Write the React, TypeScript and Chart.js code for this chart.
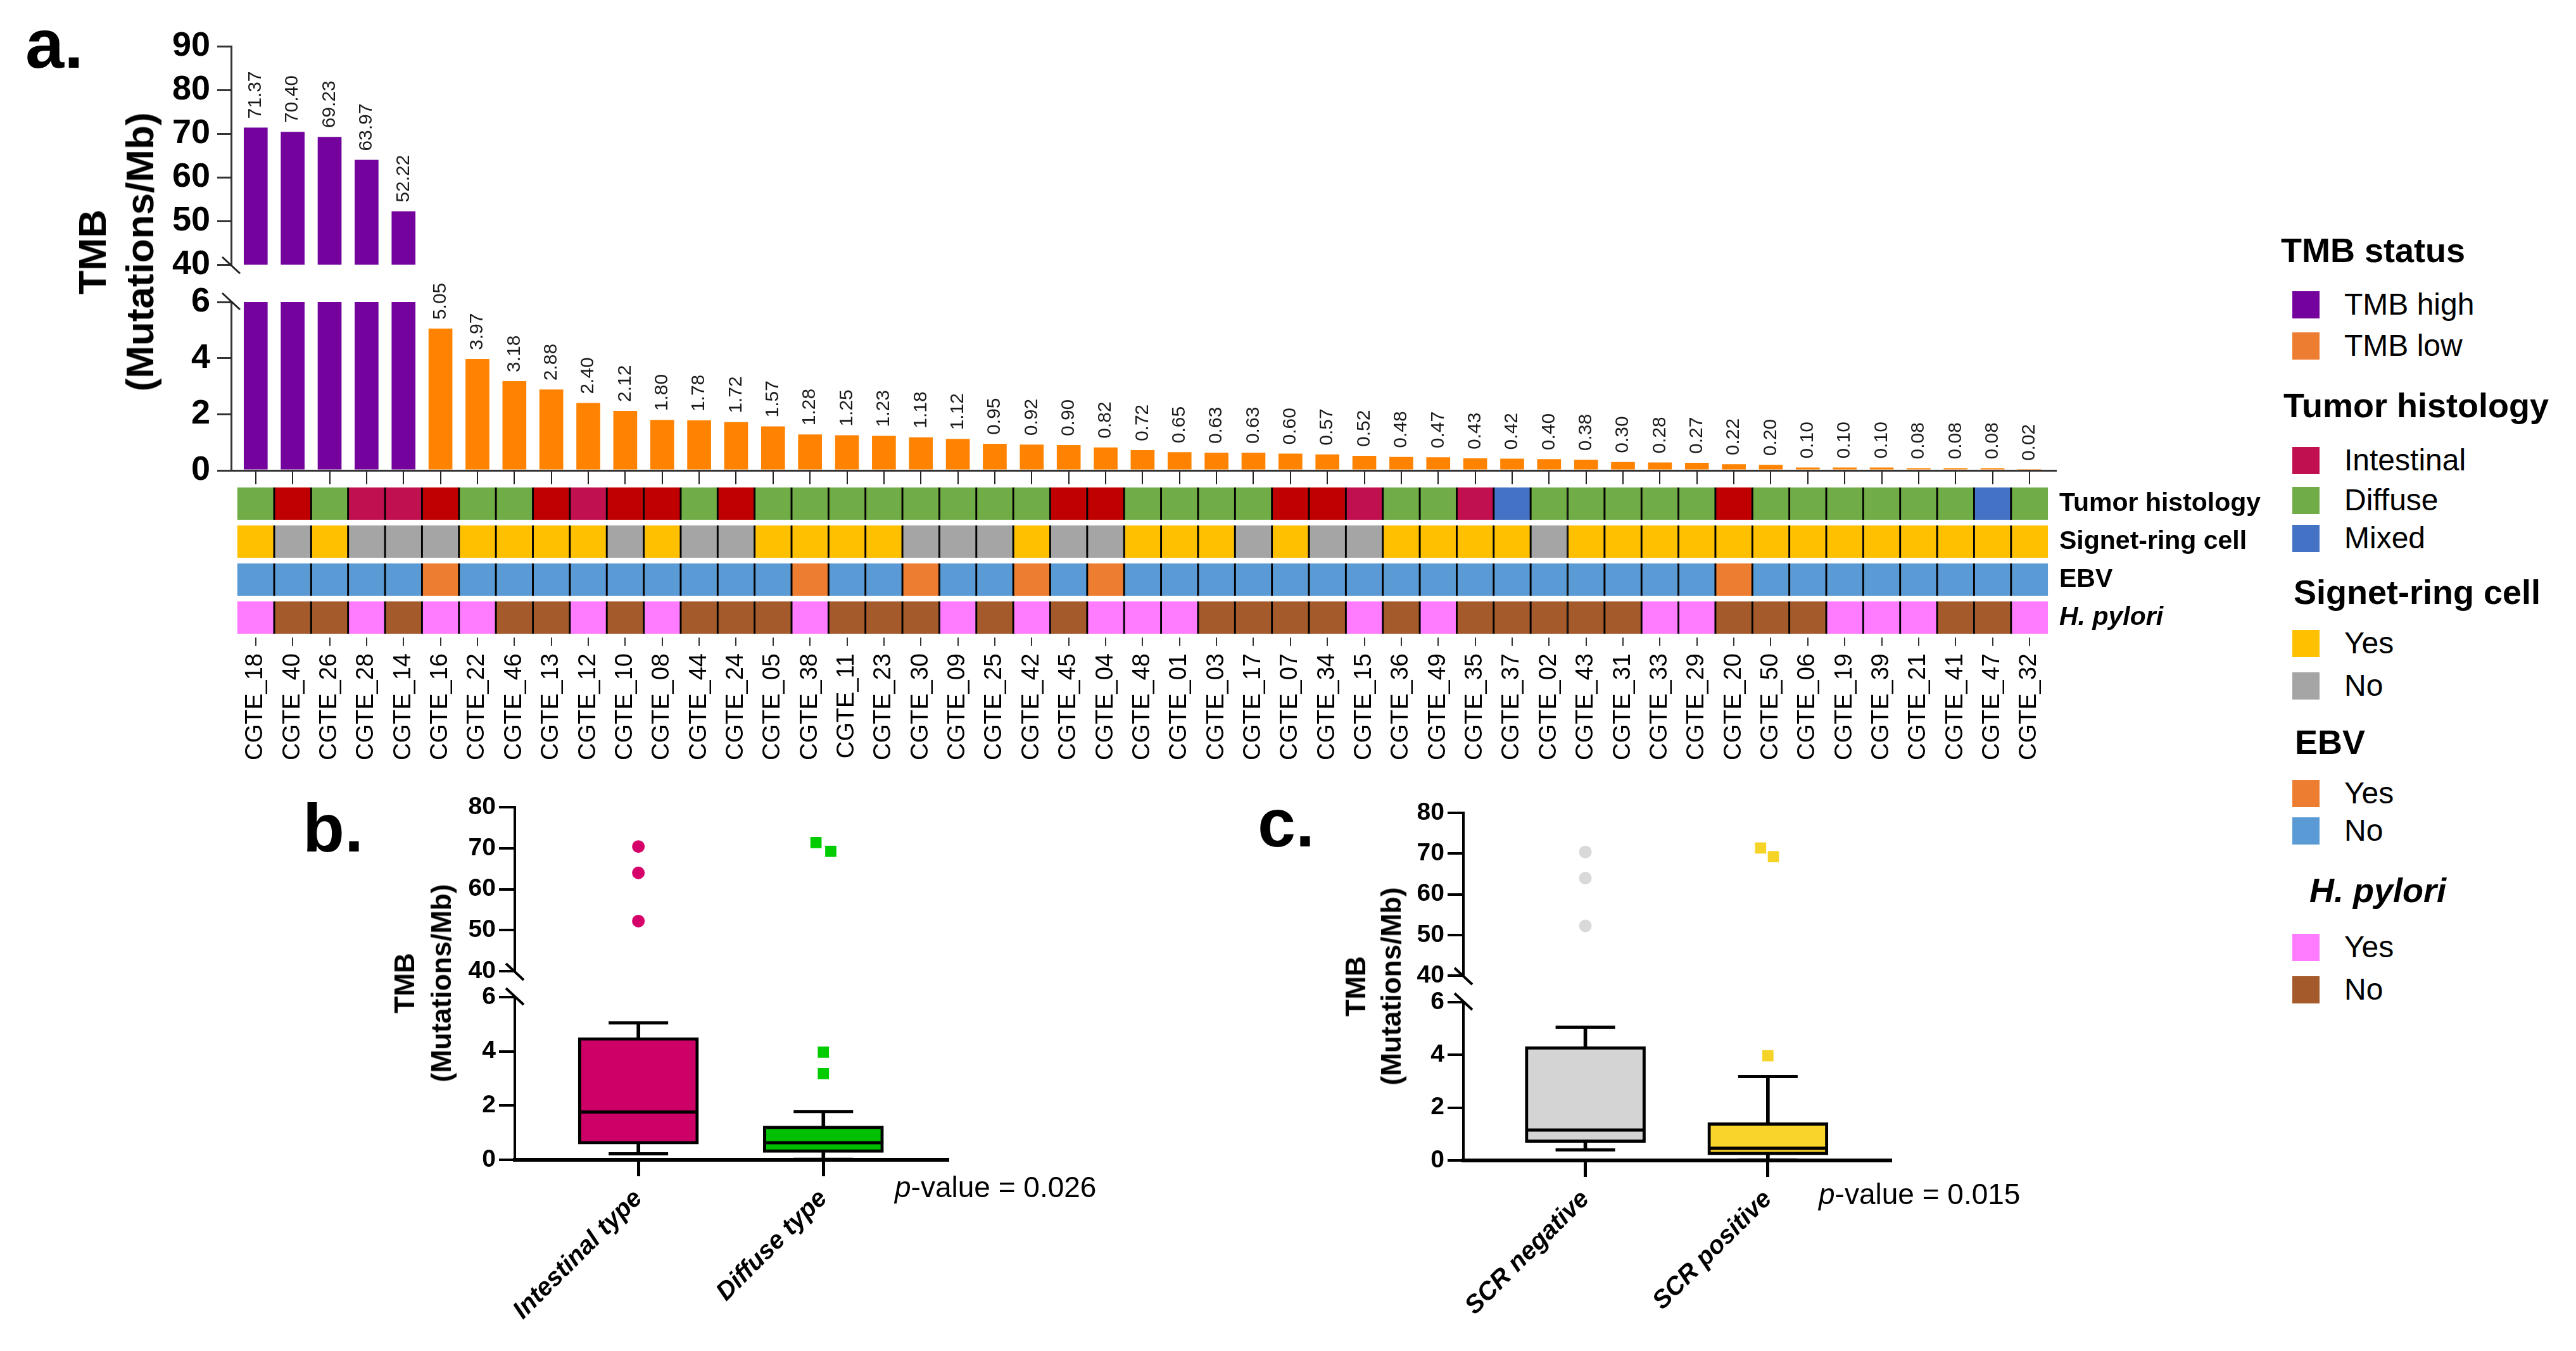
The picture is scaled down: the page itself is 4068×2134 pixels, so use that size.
import React, { useEffect, useRef } from "react";
import { Chart, registerables } from "chart.js";
Chart.register(...registerables);

const FONT = "'Liberation Sans', Arial, Helvetica, sans-serif";

// ---------------- data: panel a ----------------
const sampleIds = [
  "CGTE_18", "CGTE_40", "CGTE_26", "CGTE_28", "CGTE_14", "CGTE_16", "CGTE_22", "CGTE_46", "CGTE_13", "CGTE_12",
  "CGTE_10", "CGTE_08", "CGTE_44", "CGTE_24", "CGTE_05", "CGTE_38", "CGTE_11", "CGTE_23", "CGTE_30", "CGTE_09",
  "CGTE_25", "CGTE_42", "CGTE_45", "CGTE_04", "CGTE_48", "CGTE_01", "CGTE_03", "CGTE_17", "CGTE_07", "CGTE_34",
  "CGTE_15", "CGTE_36", "CGTE_49", "CGTE_35", "CGTE_37", "CGTE_02", "CGTE_43", "CGTE_31", "CGTE_33", "CGTE_29",
  "CGTE_20", "CGTE_50", "CGTE_06", "CGTE_19", "CGTE_39", "CGTE_21", "CGTE_41", "CGTE_47", "CGTE_32",
];
const tmbValues = [
  71.37, 70.40, 69.23, 63.97, 52.22, 5.05, 3.97, 3.18, 2.88, 2.40,
  2.12, 1.80, 1.78, 1.72, 1.57, 1.28, 1.25, 1.23, 1.18, 1.12,
  0.95, 0.92, 0.90, 0.82, 0.72, 0.65, 0.63, 0.63, 0.60, 0.57,
  0.52, 0.48, 0.47, 0.43, 0.42, 0.40, 0.38, 0.30, 0.28, 0.27,
  0.22, 0.20, 0.10, 0.10, 0.10, 0.08, 0.08, 0.08, 0.02,
];
const tmbStatus = tmbValues.map((v) => (v >= 10 ? "high" : "low"));
// D = diffuse, I = intestinal, Ir = intestinal (red shade), M = mixed
const histology = [
  "D", "Ir", "D", "I", "I", "Ir", "D", "D", "Ir", "I",
  "Ir", "Ir", "D", "Ir", "D", "D", "D", "D", "D", "D",
  "D", "D", "Ir", "Ir", "D", "D", "D", "D", "Ir", "Ir",
  "I", "D", "D", "I", "M", "D", "D", "D", "D", "D",
  "Ir", "D", "D", "D", "D", "D", "D", "M", "D",
];
const signetRing = [
  "Yes", "No", "Yes", "No", "No", "No", "Yes", "Yes", "Yes", "Yes",
  "No", "Yes", "No", "No", "Yes", "Yes", "Yes", "Yes", "No", "No",
  "No", "Yes", "No", "No", "Yes", "Yes", "Yes", "No", "Yes", "No",
  "No", "Yes", "Yes", "Yes", "Yes", "No", "Yes", "Yes", "Yes", "Yes",
  "Yes", "Yes", "Yes", "Yes", "Yes", "Yes", "Yes", "Yes", "Yes",
];
const ebv = [
  "No", "No", "No", "No", "No", "Yes", "No", "No", "No", "No",
  "No", "No", "No", "No", "No", "Yes", "No", "No", "Yes", "No",
  "No", "Yes", "No", "Yes", "No", "No", "No", "No", "No", "No",
  "No", "No", "No", "No", "No", "No", "No", "No", "No", "No",
  "Yes", "No", "No", "No", "No", "No", "No", "No", "No",
];
const hPylori = [
  "Yes", "No", "No", "Yes", "No", "Yes", "Yes", "No", "No", "Yes",
  "No", "Yes", "No", "No", "No", "Yes", "No", "No", "No", "Yes",
  "No", "Yes", "No", "Yes", "Yes", "Yes", "No", "No", "No", "No",
  "Yes", "No", "Yes", "No", "No", "No", "No", "No", "Yes", "Yes",
  "No", "No", "No", "Yes", "Yes", "Yes", "No", "No", "Yes",
];
const annotationRowLabels = ["Tumor histology", "Signet-ring cell", "EBV", "H. pylori"];

// ---------------- data: panel b ----------------
const histGroups = ["Intestinal type", "Diffuse type"];
const histMin = [0.22, 0.02];
const histQ1 = [0.58, 0.27];
const histMedian = [1.76, 0.63];
const histQ3 = [4.51, 1.25];
const histMax = [5.05, 1.78];
const histOutliers = [[70.40, 63.97, 52.22], [71.37, 69.23, 3.97, 3.18]];
const histOutlierJitter = [[0, 0, 0], [-0.04, 0.04, 0, 0]];

// ---------------- data: panel c ----------------
const srcGroups = ["SCR negative", "SCR positive"];
const srcMin = [0.40, 0.02];
const srcQ1 = [0.68, 0.21];
const srcMedian = [1.15, 0.46];
const srcQ3 = [4.32, 1.43];
const srcMax = [5.05, 3.18];
const srcOutliers = [[70.40, 63.97, 52.22], [71.37, 69.23, 3.97]];
const srcOutlierJitter = [[0, 0, 0], [-0.04, 0.03, 0]];

// ---------------- colours ----------------
const tmbColors: Record<string, string> = { high: "#73039c", low: "#ff8300" };
const histologyColors: Record<string, string> = { D: "#70ad47", I: "#c0104f", Ir: "#c00000", M: "#4472c4" };
const srcColors: Record<string, string> = { Yes: "#ffc000", No: "#a5a5a5" };
const ebvColors: Record<string, string> = { Yes: "#ed7d31", No: "#5b9bd5" };
const hpColors: Record<string, string> = { Yes: "#ff7bff", No: "#a45a2a" };

// ---------------- helpers ----------------
const fixW = (w: number) => (s: any) => {
  s.width = w;
  s.paddingLeft = 0; s.paddingRight = 0; s.paddingTop = 0; s.paddingBottom = 0;
};
const fixH = (h: number) => (s: any) => {
  s.height = h;
  s.paddingLeft = 0; s.paddingRight = 0; s.paddingTop = 0; s.paddingBottom = 0;
};

function baseOptions(pad: { left: number; top: number; right: number; bottom: number }) {
  return {
    responsive: false,
    maintainAspectRatio: false,
    animation: false,
    devicePixelRatio: 1,
    events: [],
    layout: { padding: pad, autoPadding: false },
    plugins: { legend: { display: false }, tooltip: { enabled: false }, title: { display: false } },
  };
}

const breakMarks = (where: "top" | "bottom", lw: number, color: string) => ({
  id: "brk" + where,
  afterDraw(chart: any) {
    const { ctx, chartArea: a } = chart;
    const x = a.left;
    const y = where === "bottom" ? a.bottom : a.top;
    ctx.save();
    ctx.strokeStyle = color;
    ctx.lineWidth = lw;
    ctx.beginPath();
    if (where === "bottom") { ctx.moveTo(x - 14, y - 12); ctx.lineTo(x + 14, y + 14); }
    else { ctx.moveTo(x - 14, y - 14); ctx.lineTo(x + 14, y + 12); }
    ctx.stroke();
    ctx.restore();
  },
});

const valueLabels = {
  id: "valueLabels",
  afterDatasetsDraw(chart: any) {
    const meta = chart.getDatasetMeta(0);
    const ys = chart.scales.y;
    const ctx = chart.ctx;
    ctx.save();
    ctx.font = `30px ${FONT}`;
    ctx.fillStyle = "#1a1a1a";
    ctx.textAlign = "left";
    ctx.textBaseline = "middle";
    meta.data.forEach((el: any, i: number) => {
      const v = tmbValues[i];
      if (v > ys.max || v < ys.min) return;
      ctx.save();
      ctx.translate(el.x, el.y - 14);
      ctx.rotate(-Math.PI / 2);
      ctx.fillText(v.toFixed(2), 0, 0);
      ctx.restore();
    });
    ctx.restore();
  },
};

function ChartCanvas({ x, y, w, h, config }: { x: number; y: number; w: number; h: number; config: () => any }) {
  const ref = useRef<HTMLCanvasElement | null>(null);
  useEffect(() => {
    if (!ref.current) return;
    const chart = new Chart(ref.current, config());
    return () => chart.destroy();
  }, []);
  return (
    <canvas
      ref={ref}
      width={w}
      height={h}
      style={{ position: "absolute", left: x, top: y, width: w, height: h }}
    />
  );
}

// ---------------- panel a configs ----------------
const A_XMIN = -0.665;
const A_XMAX = 48.72;
const aTickFont = { family: FONT, size: 54, weight: "bold" as const };
const barColors = tmbStatus.map((s) => tmbColors[s]);
const sampleTicks = (s: any) => { s.ticks = sampleIds.map((_, i) => ({ value: i })); };

function aUpperConfig() {
  return {
    type: "bar",
    data: {
      datasets: [{
        data: tmbValues.map((v, i) => ({ x: i, y: v > 40 ? v : null })),
        backgroundColor: barColors,
        grouped: false,
        barPercentage: 0.645,
        categoryPercentage: 1,
        clip: 0,
      }],
    },
    options: {
      ...baseOptions({ left: 0, top: 73, right: 53, bottom: 22 }),
      scales: {
        x: {
          type: "linear", min: A_XMIN, max: A_XMAX, display: false, offset: false,
          afterBuildTicks: sampleTicks,
        },
        y: {
          type: "linear", min: 40, max: 90, afterFit: fixW(365),
          ticks: { stepSize: 10, font: aTickFont, color: "#000", padding: 11 },
          grid: { drawOnChartArea: false, tickLength: 22, lineWidth: 3, color: "#333" },
          border: { width: 3, color: "#333" },
        },
      },
    },
    plugins: [valueLabels, breakMarks("bottom", 3, "#222")],
  };
}

function aLowerConfig() {
  return {
    type: "bar",
    data: {
      datasets: [{
        data: tmbValues.map((v, i) => ({ x: i, y: v })),
        backgroundColor: barColors,
        grouped: false,
        barPercentage: 0.645,
        categoryPercentage: 1,
        clip: 0,
      }],
    },
    options: {
      ...baseOptions({ left: 0, top: 57, right: 53, bottom: 12 }),
      scales: {
        x: {
          type: "linear", min: A_XMIN, max: A_XMAX, afterFit: fixH(25), offset: false,
          afterBuildTicks: sampleTicks,
          ticks: { display: false },
          grid: { drawOnChartArea: false, offset: false, tickLength: 22, lineWidth: 2, color: "#222" },
          border: { width: 3, color: "#333" },
        },
        y: {
          type: "linear", min: 0, max: 6, afterFit: fixW(365),
          ticks: { stepSize: 2, font: aTickFont, color: "#000", padding: 11 },
          grid: { drawOnChartArea: false, tickLength: 22, lineWidth: 3, color: "#333" },
          border: { width: 3, color: "#333" },
        },
      },
    },
    plugins: [valueLabels, breakMarks("top", 3, "#222")],
  };
}

function annotationConfig() {
  const rows = [histology, signetRing, ebv, hPylori];
  const maps = [histologyColors, srcColors, ebvColors, hpColors];
  const n = sampleIds.length;
  return {
    type: "bar",
    data: {
      datasets: rows.map((row, r) => ({
        data: row.map((_, i) => ({ x: i, y: [r + 0.05, r + 0.9] })),
        backgroundColor: row.map((c) => maps[r][c]),
        borderColor: "#000",
        borderWidth: (ctx: any) => ({
          left: ctx.dataIndex === 0 ? 0 : 1.8,
          right: ctx.dataIndex === n - 1 ? 0 : 1.8,
          top: 0,
          bottom: 0,
        }),
        borderSkipped: false,
        grouped: false,
        barPercentage: 1,
        categoryPercentage: 1,
      })),
    },
    options: {
      ...baseOptions({ left: 365, top: 7, right: 0, bottom: 0 }),
      scales: {
        x: {
          type: "linear", min: A_XMIN, max: A_XMAX, position: "bottom", afterFit: fixH(213), offset: false,
          afterBuildTicks: sampleTicks,
          ticks: {
            autoSkip: false, minRotation: 90, maxRotation: 90, padding: 12,
            callback: (v: number) => sampleIds[v],
            font: { family: FONT, size: 38 }, color: "#000",
          },
          grid: { drawOnChartArea: false, offset: false, tickLength: 13, lineWidth: 2, color: "#333" },
          border: { display: false },
        },
        y: { type: "linear", min: 0, max: 4, reverse: true, display: false },
        yr: {
          type: "linear", position: "right", min: 0, max: 4, reverse: true, afterFit: fixW(373),
          afterBuildTicks: (s: any) => { s.ticks = annotationRowLabels.map((_, r) => ({ value: r + 0.475 })); },
          ticks: {
            padding: 5, color: "#000", autoSkip: false,
            callback: (_v: number, idx: number) => annotationRowLabels[idx],
            font: (c: any) => ({ family: FONT, size: 41, weight: "bold", style: c.index === 3 ? "italic" : "normal" }),
          },
          grid: { display: false, drawTicks: false },
          border: { display: false },
        },
      },
    },
  };
}

// ---------------- panels b / c ----------------
type BoxSpec = {
  groups: string[]; mins: number[]; q1: number[]; med: number[]; q3: number[]; maxs: number[];
  outliers: number[][]; jitter: number[][]; fills: string[]; outColors: string[]; outStyles: string[];
  yAxisW: number; rightPad: number;
};
const B_XMIN = 0.332;
const B_XMAX = 2.67;
const BOX_W = 190;
const bTickFont = { family: FONT, size: 39, weight: "bold" as const };

function outlierSets(sp: BoxSpec, keep: (v: number) => boolean) {
  return sp.groups.map((_, g) => ({
    type: "line",
    showLine: false,
    data: sp.outliers[g]
      .map((v, k) => ({ x: g + 1 + sp.jitter[g][k], y: v }))
      .filter((p) => keep(p.y)),
    pointStyle: sp.outStyles[g],
    pointRadius: sp.outStyles[g] === "rect" ? 12.5 : 10,
    pointBackgroundColor: sp.outColors[g],
    pointBorderWidth: 0,
    borderColor: sp.outColors[g],
    order: 0,
  }));
}

function boxUpperConfig(sp: BoxSpec, padTop: number, padBottom: number) {
  return {
    type: "scatter",
    data: { datasets: outlierSets(sp, (v) => v >= 40) },
    options: {
      ...baseOptions({ left: 0, top: padTop, right: sp.rightPad, bottom: padBottom }),
      scales: {
        x: { type: "linear", min: B_XMIN, max: B_XMAX, display: false, offset: false },
        y: {
          type: "linear", min: 40, max: 80, afterFit: fixW(sp.yAxisW),
          ticks: { stepSize: 10, font: bTickFont, color: "#000", padding: 5 },
          grid: { drawOnChartArea: false, tickLength: 25, lineWidth: 4, color: "#000" },
          border: { width: 4, color: "#000" },
        },
      },
    },
    plugins: [breakMarks("bottom", 4, "#000")],
  };
}

function boxLowerConfig(sp: BoxSpec, padTop: number, axisH: number) {
  const gx = (g: number) => g + 1;
  return {
    type: "bar",
    data: {
      datasets: [
        {
          type: "bar",
          data: sp.groups.map((_, g) => ({ x: gx(g), y: [sp.q3[g], sp.maxs[g]] })),
          backgroundColor: "#000", barThickness: 5, grouped: false, order: 5,
        },
        {
          type: "bar",
          data: sp.groups.map((_, g) => ({ x: gx(g), y: [sp.mins[g], sp.q1[g]] })),
          backgroundColor: "#000", barThickness: 5, grouped: false, order: 5,
        },
        {
          type: "bar",
          data: sp.groups.map((_, g) => ({ x: gx(g), y: [sp.q1[g], sp.q3[g]] })),
          backgroundColor: sp.fills, borderColor: "#000", borderWidth: 5, borderSkipped: false,
          grouped: false, barThickness: BOX_W, order: 3,
        },
        {
          type: "line", showLine: false,
          data: sp.groups.map((_, g) => ({ x: gx(g), y: sp.med[g] })),
          pointStyle: "line", pointRadius: BOX_W / 2 - 2, pointBorderWidth: 5, pointBorderColor: "#000",
          borderColor: "#000", order: 1,
        },
        {
          type: "line", showLine: false,
          data: [
            ...sp.groups.map((_, g) => ({ x: gx(g), y: sp.maxs[g] })),
            ...sp.groups.map((_, g) => ({ x: gx(g), y: sp.mins[g] })),
          ],
          pointStyle: "line", pointRadius: 47, pointBorderWidth: 5, pointBorderColor: "#000",
          borderColor: "#000", order: 4,
        },
        ...outlierSets(sp, (v) => v <= 6),
      ],
    },
    options: {
      ...baseOptions({ left: 0, top: padTop, right: sp.rightPad, bottom: 0 }),
      scales: {
        x: {
          type: "linear", min: B_XMIN, max: B_XMAX, afterFit: fixH(axisH), offset: false,
          afterBuildTicks: (s: any) => { s.ticks = sp.groups.map((_, g) => ({ value: gx(g) })); },
          ticks: {
            autoSkip: false, minRotation: 45, maxRotation: 45, padding: 12,
            callback: (v: number) => sp.groups[Math.round(v) - 1],
            font: { family: FONT, size: 40, weight: "bold", style: "italic" }, color: "#000",
          },
          grid: { drawOnChartArea: false, offset: false, tickLength: 26, lineWidth: 5, color: "#000" },
          border: { width: 6, color: "#000" },
        },
        y: {
          type: "linear", min: 0, max: 6, afterFit: fixW(sp.yAxisW),
          ticks: { stepSize: 2, font: bTickFont, color: "#000", padding: 5 },
          grid: { drawOnChartArea: false, tickLength: 25, lineWidth: 4, color: "#000" },
          border: { width: 4, color: "#000" },
        },
      },
    },
    plugins: [breakMarks("top", 4, "#000")],
  };
}

const specB: BoxSpec = {
  groups: histGroups, mins: histMin, q1: histQ1, med: histMedian, q3: histQ3, maxs: histMax,
  outliers: histOutliers, jitter: histOutlierJitter,
  fills: ["#cc0066", "#00c000"], outColors: ["#d6006a", "#00cc00"], outStyles: ["circle", "rect"],
  yAxisW: 373, rightPad: 44,
};
const specC: BoxSpec = {
  groups: srcGroups, mins: srcMin, q1: srcQ1, med: srcMedian, q3: srcQ3, maxs: srcMax,
  outliers: srcOutliers, jitter: srcOutlierJitter,
  fills: ["#d4d4d4", "#f8d52a"], outColors: ["#d9d9d9", "#f5d327"], outStyles: ["circle", "rect"],
  yAxisW: 371, rightPad: 55,
};

// ---------------- HTML text helpers ----------------
function Txt({ x, cy, size, bold = false, italic = false, children }: any) {
  return (
    <div
      style={{
        position: "absolute", left: x, top: cy - size * 0.6, fontSize: size, lineHeight: `${size * 1.2}px`,
        fontWeight: bold ? "bold" : "normal", fontStyle: italic ? "italic" : "normal", whiteSpace: "nowrap",
        color: "#000", fontFamily: FONT,
      }}
    >
      {children}
    </div>
  );
}

function RotTitle({ cx, cy, size, lh, lines }: { cx: number; cy: number; size: number; lh: number; lines: string[] }) {
  return (
    <div
      style={{
        position: "absolute", left: cx, top: cy, transform: "translate(-50%, -50%) rotate(-90deg)",
        fontSize: size, lineHeight: `${lh}px`, fontWeight: "bold", textAlign: "center", whiteSpace: "nowrap",
        color: "#000", fontFamily: FONT,
      }}
    >
      {lines.map((l) => <div key={l}>{l}</div>)}
    </div>
  );
}

const legendSections = [
  { title: "TMB status", italic: false, tx: 3602, ty: 395, items: [["TMB high", tmbColors.high, 481], ["TMB low", "#ed7d31", 546]] },
  { title: "Tumor histology", italic: false, tx: 3606, ty: 640, items: [["Intestinal", histologyColors.I, 727], ["Diffuse", histologyColors.D, 790], ["Mixed", histologyColors.M, 850]] },
  { title: "Signet-ring cell", italic: false, tx: 3622, ty: 935, items: [["Yes", srcColors.Yes, 1016], ["No", srcColors.No, 1083]] },
  { title: "EBV", italic: false, tx: 3624, ty: 1172, items: [["Yes", ebvColors.Yes, 1253], ["No", ebvColors.No, 1312]] },
  { title: "H. pylori", italic: true, tx: 3647, ty: 1406, items: [["Yes", hpColors.Yes, 1496], ["No", hpColors.No, 1563]] },
];

export default function App() {
  return (
    <div style={{ position: "absolute", left: 0, top: 0, width: 4068, height: 2134, background: "#fff", overflow: "hidden" }}>
      {/* panel a */}
      <ChartCanvas x={0} y={0} w={3300} h={440} config={aUpperConfig} />
      <ChartCanvas x={0} y={420} w={3300} h={360} config={aLowerConfig} />
      <ChartCanvas x={0} y={760} w={3620} h={460} config={annotationConfig} />
      {/* panel b */}
      <ChartCanvas x={440} y={1240} w={1100} h={320} config={() => boxUpperConfig(specB, 35, 26)} />
      <ChartCanvas x={440} y={1550} w={1100} h={584} config={() => boxLowerConfig(specB, 25, 302)} />
      {/* panel c */}
      <ChartCanvas x={1940} y={1245} w={1100} h={320} config={() => boxUpperConfig(specC, 39, 24)} />
      <ChartCanvas x={1940} y={1555} w={1100} h={579} config={() => boxLowerConfig(specC, 28, 301)} />

      {/* panel letters and titles */}
      <div style={{ position: "absolute", left: 40, top: 14, fontSize: 110, lineHeight: "110px", fontWeight: "bold", fontFamily: FONT }}>a.</div>
      <div style={{ position: "absolute", left: 478, top: 1254, fontSize: 108, lineHeight: "108px", fontWeight: "bold", fontFamily: FONT }}>b.</div>
      <div style={{ position: "absolute", left: 1986, top: 1246, fontSize: 108, lineHeight: "108px", fontWeight: "bold", fontFamily: FONT }}>c.</div>
      <RotTitle cx={183} cy={398} size={62} lh={75} lines={["TMB", "(Mutations/Mb)"]} />
      <RotTitle cx={668} cy={1553} size={44} lh={58} lines={["TMB", "(Mutations/Mb)"]} />
      <RotTitle cx={2169} cy={1558} size={44} lh={56} lines={["TMB", "(Mutations/Mb)"]} />
      <Txt x={1413} cy={1876} size={46}><span style={{ fontStyle: "italic" }}>p</span>-value = 0.026</Txt>
      <Txt x={2872} cy={1887} size={46}><span style={{ fontStyle: "italic" }}>p</span>-value = 0.015</Txt>

      {/* legend */}
      {legendSections.map((sec) => (
        <React.Fragment key={sec.title}>
          <Txt x={sec.tx} cy={sec.ty} size={54} bold italic={sec.italic}>{sec.title}</Txt>
          {sec.items.map(([label, color, cy]: any) => (
            <React.Fragment key={sec.title + label}>
              <div style={{ position: "absolute", left: 3620, top: cy - 21, width: 43, height: 43, background: color }} />
              <Txt x={3702} cy={cy} size={48}>{label}</Txt>
            </React.Fragment>
          ))}
        </React.Fragment>
      ))}
    </div>
  );
}
